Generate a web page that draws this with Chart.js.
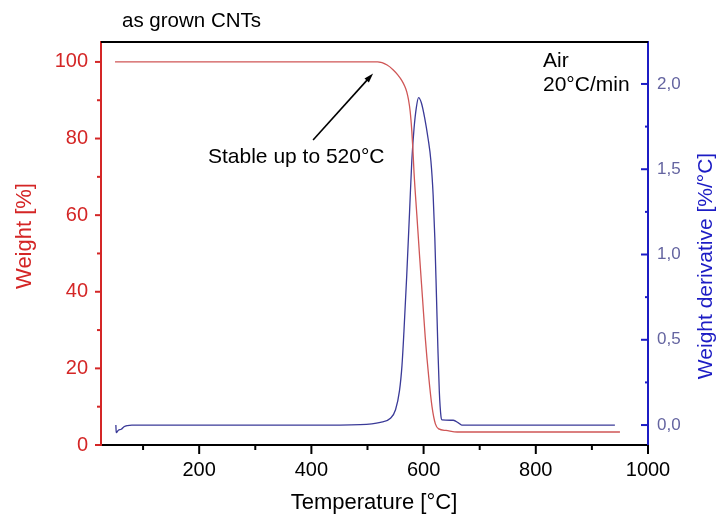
<!DOCTYPE html>
<html>
<head>
<meta charset="utf-8">
<title>TGA - as grown CNTs</title>
<script src="https://cdn.jsdelivr.net/npm/chart.js@4.4.1/dist/chart.umd.min.js"></script>
<style>
  html, body { margin: 0; padding: 0; background: #fff; }
  #box { width: 720px; height: 519px; position: relative; }
</style>
</head>
<body>
<div id="box"><canvas id="tga"></canvas></div>
<script>
// curva de massa (TG)
const tempPeso = [50, 100, 200, 300, 400, 500, 518, 535, 546, 554, 561, 566, 570, 573, 576, 579, 581, 583,
  588, 593, 598, 603, 609, 615, 621, 627, 640, 660, 700, 800, 900, 950];
const peso = [100, 100, 100, 100, 100, 100, 100, 99.2, 97.9, 96.6, 95.2, 93.8, 92.2, 90.2, 87.2, 82, 77, 71,
  60, 49, 38.5, 28, 18, 10, 5.5, 4.2, 3.8, 3.4, 3.4, 3.4, 3.4, 3.4];

// derivada (DTG)
const tempDeriv = [51.5, 52.2, 56, 61, 66, 72, 80, 200, 300, 400, 487, 523, 541, 550, 557, 561.5, 565, 570, 575,
  579, 583, 587, 591, 596, 602, 608, 613, 617, 620, 623, 625.5, 628, 631, 633, 653, 662, 668, 700, 800, 941];
const derivada = [0, -0.045, -0.03, -0.025, -0.01, -0.003, 0, 0, 0, 0, 0.003, 0.016, 0.04, 0.09, 0.2, 0.35, 0.55, 0.88, 1.25,
  1.55, 1.74, 1.86, 1.92, 1.89, 1.8, 1.68, 1.55, 1.35, 1.1, 0.75, 0.45, 0.2, 0.05, 0.03, 0.028, 0.013, 0, 0, 0, 0];

// marcas dos eixos
const xMajor = [200, 400, 600, 800, 1000];
const xMinor = [100, 300, 500, 700, 900];
const pesoMajor = [0, 20, 40, 60, 80, 100];
const pesoMinor = [10, 30, 50, 70, 90];
const derivMajor = [0, 0.5, 1, 1.5, 2];
const derivMinor = [0.25, 0.75, 1.25, 1.75];

const FONTE = '"Liberation Sans", Arial, sans-serif';
const VERMELHO = '#d42626';
const AZUL = '#1c1cc4';

const pontos = (xs, ys) => xs.map((x, i) => ({ x: x, y: ys[i] }));
const fixarTicks = (lista) => (scale) => { scale.ticks = lista.map((v) => ({ value: v })); };

function marcas(ctx, scale, majors, minors, lenMaior, lenMenor, lado, cor) {
  ctx.strokeStyle = cor;
  ctx.lineWidth = 2;
  const desenha = (v, len) => {
    const p = scale.getPixelForValue(v);
    ctx.beginPath();
    if (lado === 'baixo') {
      ctx.moveTo(p, scale.top); ctx.lineTo(p, scale.top + len);
    } else if (lado === 'esq') {
      ctx.moveTo(scale.right, p); ctx.lineTo(scale.right - len, p);
    } else {
      ctx.moveTo(scale.left, p); ctx.lineTo(scale.left - len, p);
    }
    ctx.stroke();
  };
  majors.forEach((v) => desenha(v, lenMaior));
  minors.forEach((v) => desenha(v, lenMenor));
}

const extras = {
  id: 'extras',
  afterDraw(chart) {
    const { ctx, chartArea: a, scales } = chart;
    ctx.save();

    // moldura superior
    ctx.strokeStyle = '#000';
    ctx.lineWidth = 2;
    ctx.beginPath();
    ctx.moveTo(a.left, a.top);
    ctx.lineTo(a.right, a.top);
    ctx.stroke();

    marcas(ctx, scales.x, xMajor, xMinor, 9, 5, 'baixo', '#000');
    marcas(ctx, scales.yPeso, pesoMajor, pesoMinor, 6, 4, 'esq', VERMELHO);
    marcas(ctx, scales.yDeriv, derivMajor, derivMinor, 7, 3, 'dir', AZUL);

    // títulos dos eixos
    ctx.textAlign = 'center';
    ctx.textBaseline = 'middle';
    ctx.fillStyle = '#000';
    ctx.font = '22px ' + FONTE;
    ctx.fillText('Temperature [°C]', 374, 503);

    ctx.save();
    ctx.translate(25, 236);
    ctx.rotate(-Math.PI / 2);
    ctx.fillStyle = VERMELHO;
    ctx.fillText('Weight [%]', 0, 0);
    ctx.restore();

    ctx.save();
    ctx.translate(706, 266);
    ctx.rotate(-Math.PI / 2);
    ctx.fillStyle = AZUL;
    ctx.font = '21px ' + FONTE;
    ctx.fillText('Weight derivative [%/°C]', 0, 0);
    ctx.restore();

    // textos
    ctx.textAlign = 'left';
    ctx.textBaseline = 'alphabetic';
    ctx.fillStyle = '#000';
    ctx.font = '20.5px ' + FONTE;
    ctx.fillText('as grown CNTs', 122, 27);
    ctx.font = '21px ' + FONTE;
    ctx.fillText('Air', 543, 67);
    ctx.fillText('20°C/min', 543, 91);
    ctx.fillText('Stable up to 520°C', 208, 163);

    // seta
    const sx = scales.x, sy = scales.yPeso;
    const x0 = sx.getPixelForValue(403), y0 = sy.getPixelForValue(79.6);
    const x1 = sx.getPixelForValue(510), y1 = sy.getPixelForValue(97);
    const ang = Math.atan2(y1 - y0, x1 - x0);
    ctx.strokeStyle = '#000';
    ctx.lineWidth = 1.6;
    ctx.beginPath();
    ctx.moveTo(x0, y0);
    ctx.lineTo(x1 - 6 * Math.cos(ang), y1 - 6 * Math.sin(ang));
    ctx.stroke();
    ctx.beginPath();
    ctx.moveTo(x1, y1);
    ctx.lineTo(x1 - 10 * Math.cos(ang - 0.3), y1 - 10 * Math.sin(ang - 0.3));
    ctx.lineTo(x1 - 10 * Math.cos(ang + 0.3), y1 - 10 * Math.sin(ang + 0.3));
    ctx.closePath();
    ctx.fillStyle = '#000';
    ctx.fill();

    ctx.restore();
  }
};

new Chart(document.getElementById('tga'), {
  type: 'line',
  data: {
    datasets: [
      {
        label: 'Weight',
        data: pontos(tempPeso, peso),
        yAxisID: 'yPeso',
        borderColor: '#cf5656',
        borderWidth: 1.3,
        pointRadius: 0,
        cubicInterpolationMode: 'monotone'
      },
      {
        label: 'Weight derivative',
        data: pontos(tempDeriv, derivada),
        yAxisID: 'yDeriv',
        borderColor: '#3a3a98',
        borderWidth: 1.3,
        pointRadius: 0,
        cubicInterpolationMode: 'monotone'
      }
    ]
  },
  options: {
    responsive: true,
    maintainAspectRatio: false,
    animation: false,
    layout: { padding: { top: 42, left: 0, right: 0, bottom: 0 } },
    plugins: { legend: { display: false }, tooltip: { enabled: false } },
    scales: {
      x: {
        type: 'linear',
        position: 'bottom',
        min: 25,
        max: 1000,
        border: { color: '#000', width: 2 },
        grid: { drawOnChartArea: false, drawTicks: false },
        ticks: {
          color: '#000',
          font: { size: 20, family: FONTE },
          padding: 13,
          maxRotation: 0,
          callback: (v) => String(v)
        },
        afterBuildTicks: fixarTicks(xMajor),
        afterFit: (s) => { s.height = 74; }
      },
      yPeso: {
        type: 'linear',
        position: 'left',
        min: 0,
        max: 105.2,
        border: { color: VERMELHO, width: 2 },
        grid: { drawOnChartArea: false, drawTicks: false },
        ticks: { color: VERMELHO, font: { size: 20, family: FONTE }, padding: 13 },
        afterBuildTicks: fixarTicks(pesoMajor),
        afterFit: (s) => { s.width = 101; }
      },
      yDeriv: {
        type: 'linear',
        position: 'right',
        min: -0.117,
        max: 2.246,
        border: { color: AZUL, width: 2 },
        grid: { drawOnChartArea: false, drawTicks: false },
        ticks: {
          color: '#6464a0',
          font: { size: 17, family: FONTE },
          padding: 9,
          callback: (v) => v.toFixed(1).replace('.', ',')
        },
        afterBuildTicks: fixarTicks(derivMajor),
        afterFit: (s) => { s.width = 72; }
      }
    }
  },
  plugins: [extras]
});
</script>
</body>
</html>
